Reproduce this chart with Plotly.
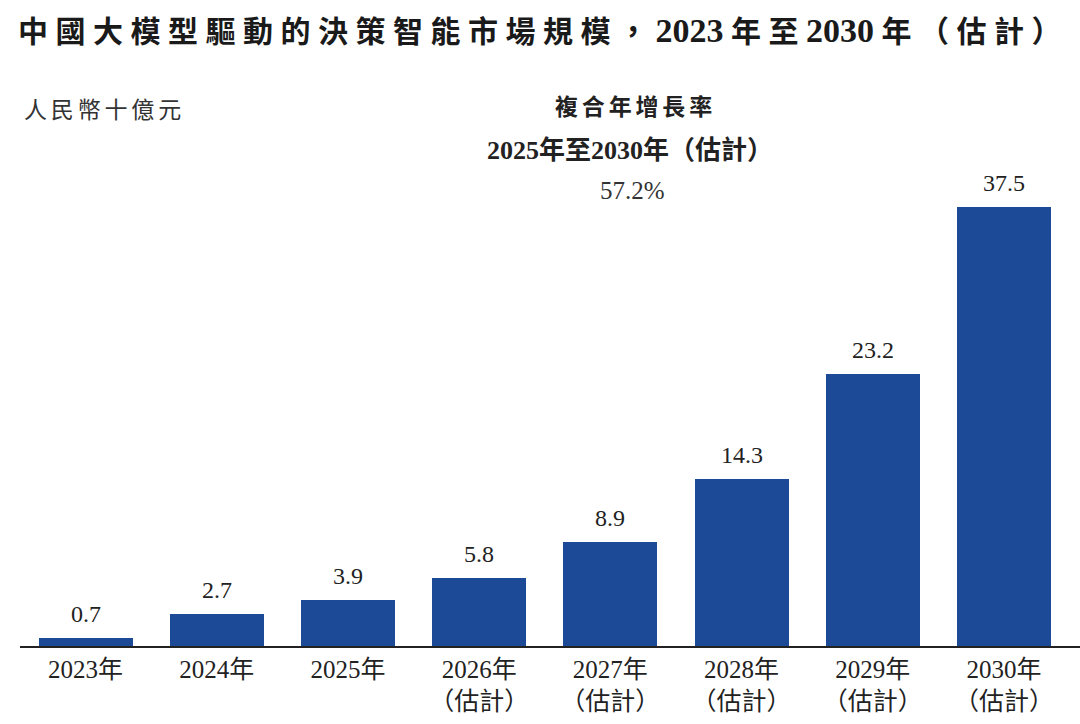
import plotly.graph_objects as go

years = ["2023年", "2024年", "2025年", "2026年", "2027年", "2028年", "2029年", "2030年"]
estimate = [False, False, False, True, True, True, True, True]
values = [0.7, 2.7, 3.9, 5.8, 8.9, 14.3, 23.2, 37.5]
value_labels = ["0.7", "2.7", "3.9", "5.8", "8.9", "14.3", "23.2", "37.5"]

title_cjk = "中國大模型驅動的決策智能市場規模，"
title_start_year = "2023"
title_mid = "年至"
title_end_year = "2030"
title_tail = "年（估計）"
unit_label = "人民幣十億元"
cagr_title = "複合年增長率"
cagr_period = "2025年至2030年（估計）"
cagr_value = "57.2%"

BAR = "#1c4a96"
SERIF = "Liberation Serif, Noto Sans CJK TC, serif"
SP = "\u2005"

ticktext = [y + ("<br>（估計）" if e else "") for y, e in zip(years, estimate)]
x = list(range(len(years)))

fig = go.Figure()
fig.add_trace(go.Bar(x=x, y=values, marker=dict(color=BAR, line=dict(width=0)), width=0.716,
                     hoverinfo="skip"))

for xi, v, lab in zip(x, values, value_labels):
    fig.add_annotation(x=xi, y=v, text=lab, showarrow=False, yanchor="middle", yshift=24,
                       font=dict(family=SERIF, size=24, color="#222"))

top_px = 100
bottom_px = 78
plot_h = 724 - top_px - bottom_px
px_per_unit = (646 - 207) / 37.5
ymax = plot_h / px_per_unit

fig.update_layout(
    width=1080, height=724,
    margin=dict(l=20, r=0, t=top_px, b=bottom_px),
    paper_bgcolor="white", plot_bgcolor="white",
    showlegend=False,
    bargap=0,
    xaxis=dict(tickmode="array", tickvals=x, ticktext=ticktext, range=[-0.5, 7.58],
               showline=True, linecolor="#222", linewidth=1.5, ticks="", showgrid=False,
               zeroline=False, tickfont=dict(family=SERIF, size=25, color="#222")),
    yaxis=dict(range=[0, ymax], visible=False, showgrid=False, zeroline=False),
)


def paper_y(px):
    return (724 - bottom_px - px) / plot_h


def big(s):
    return '<span style="font-size:34px">' + s + "</span>"


title_text = (SP.join(title_cjk) + SP + big(title_start_year) + SP + SP.join(title_mid) + SP
              + big(title_end_year) + SP + SP.join(title_tail))
fig.add_annotation(xref="paper", yref="paper", x=-0.004, y=paper_y(30), xanchor="left", yanchor="middle",
                   text="<b>" + title_text + "</b>", showarrow=False,
                   font=dict(family=SERIF, size=30, color="#1a1a1a"))

fig.add_annotation(xref="paper", yref="paper", x=0.002, y=paper_y(110), xanchor="left", yanchor="middle",
                   text="\u2006".join(unit_label), showarrow=False,
                   font=dict(family=SERIF, size=23, color="#333"))
fig.add_annotation(xref="paper", yref="paper", x=(633 - 20) / 1060, y=paper_y(108), xanchor="center", yanchor="middle",
                   text="<b>" + "\u2006".join(cagr_title) + "</b>", showarrow=False,
                   font=dict(family=SERIF, size=23, color="#222"))
fig.add_annotation(xref="paper", yref="paper", x=(630 - 20) / 1060, y=paper_y(150), xanchor="center", yanchor="middle",
                   text="<b>" + cagr_period + "</b>", showarrow=False,
                   font=dict(family=SERIF, size=26, color="#222"))
fig.add_annotation(xref="paper", yref="paper", x=(632 - 20) / 1060, y=paper_y(190), xanchor="center", yanchor="middle",
                   text=cagr_value, showarrow=False,
                   font=dict(family=SERIF, size=25, color="#333"))

fig.write_html("out.html")
